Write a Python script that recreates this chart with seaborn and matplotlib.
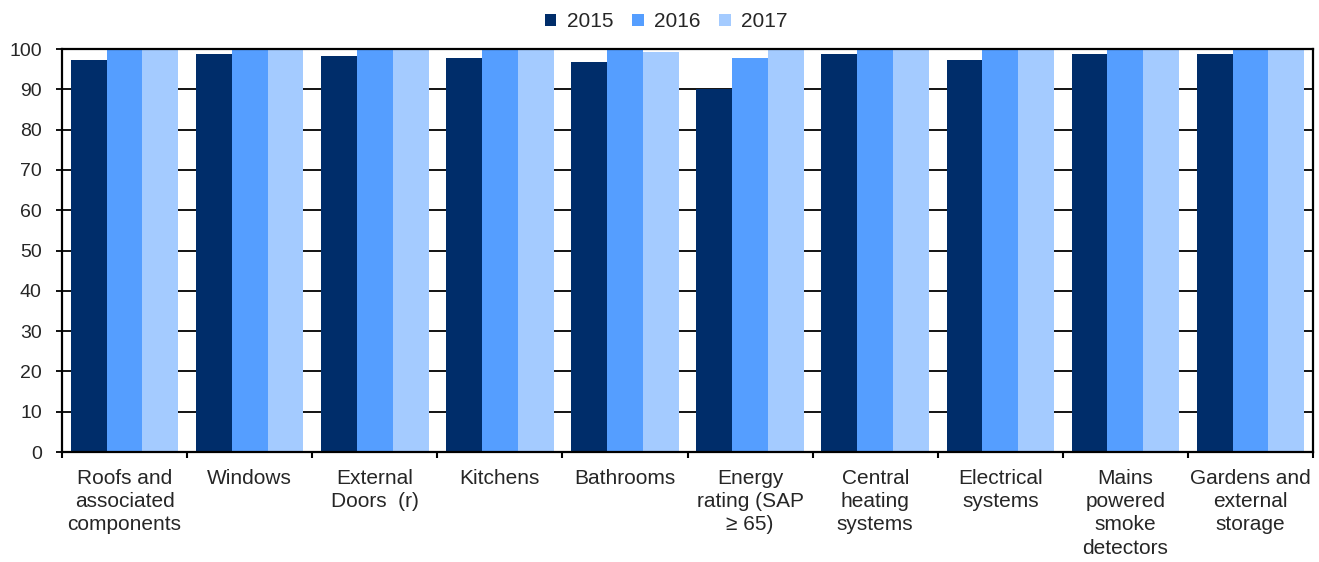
import numpy as np
import matplotlib.pyplot as plt
import pandas as pd
import seaborn as sns

categories = [
    "Roofs and\nassociated\ncomponents",
    "Windows",
    "External\nDoors  (r)",
    "Kitchens",
    "Bathrooms",
    "Energy\nrating (SAP\n\u2265 65)",
    "Central\nheating\nsystems",
    "Electrical\nsystems",
    "Mains\npowered\nsmoke\ndetectors",
    "Gardens and\nexternal\nstorage",
]
years = ["2015", "2016", "2017"]
v2015 = [97.2, 98.7, 98.2, 97.7, 96.7, 90.2, 98.7, 97.2, 98.7, 98.7]
v2016 = [100.0, 100.0, 100.0, 99.7, 99.7, 97.7, 100.0, 99.7, 100.0, 100.0]
v2017 = [99.7, 99.7, 99.7, 99.7, 99.2, 99.7, 99.7, 99.7, 99.7, 99.7]
colors = ["#002D6A", "#559EFF", "#A4CBFF"]

df = pd.DataFrame({
    "category": categories * 3,
    "year": [y for y in years for _ in categories],
    "value": v2015 + v2016 + v2017,
})

sns.set_style("white")
plt.rcParams["font.family"] = ["Liberation Sans", "DejaVu Sans"]

fig = plt.figure(figsize=(13.19, 5.62), dpi=100)
ax = fig.add_axes([0.047, 0.1957, 0.9485, 0.7171])

sns.barplot(data=df, x="category", y="value", hue="year", palette=colors,
            width=0.86, gap=0, saturation=1, linewidth=0, ax=ax, legend=True)

ax.set_ylim(0, 100)
ax.set_xlim(-0.5, len(categories) - 0.5)
ax.set_yticks(np.arange(0, 101, 10))
ax.yaxis.grid(True, color="black", linewidth=1.3)
ax.set_axisbelow(True)
for s in ax.spines.values():
    s.set_visible(True)
    s.set_color("black")
    s.set_linewidth(1.6)

ax.set_xlabel("")
ax.set_ylabel("")
ax.set_xticks(np.arange(-0.5, len(categories), 1), minor=True)
ax.tick_params(axis="x", which="major", length=0, pad=12.5, labelsize=15)
ax.tick_params(axis="x", which="minor", length=4, width=1.5, direction="out",
               color="black", bottom=True)
ax.tick_params(axis="y", length=4, width=1.3, direction="out", color="black",
               left=True, labelsize=14, pad=10.5)
for lab in ax.get_xticklabels():
    lab.set_horizontalalignment("center")
    lab.set_verticalalignment("top")
    lab.set_linespacing(1.27)

ax.legend(loc="lower center", bbox_to_anchor=(0.483, 1.0), ncol=3, frameon=False,
          fontsize=15, handlelength=0.55, handleheight=0.55, handletextpad=0.5,
          columnspacing=0.9, borderaxespad=0.45)

fig.savefig("out.png", dpi=100)
